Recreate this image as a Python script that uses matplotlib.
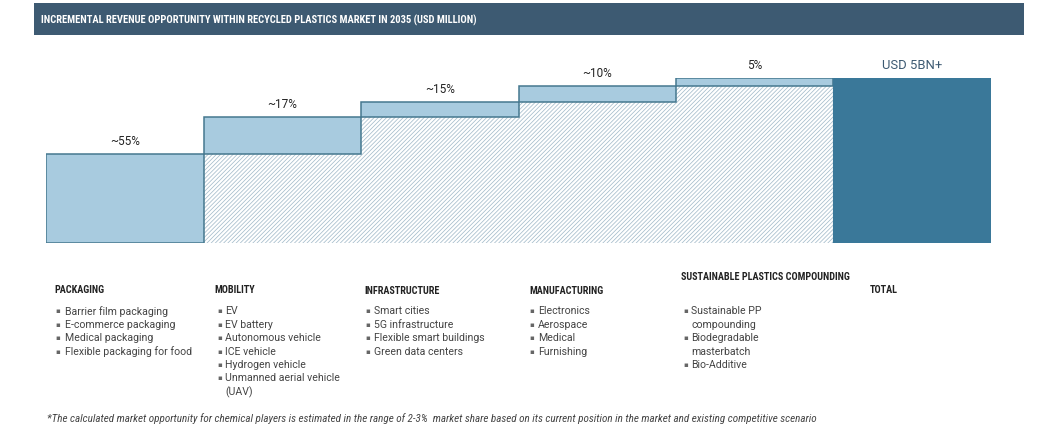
import matplotlib
matplotlib.use("Agg")
import matplotlib.pyplot as plt
from matplotlib.patches import Rectangle
import numpy as np

# ---------------- data ----------------
categories = ["PACKAGING", "MOBILITY", "INFRASTRUCTURE", "MANUFACTURING",
              "SUSTAINABLE PLASTICS COMPOUNDING", "TOTAL"]
shares = [54.1, 22.2, 9.3, 9.5, 4.9]          # share of total (%), as drawn
total_value = 100.0
value_labels = ["~55%", "~17%", "~15%", "~10%", "5%", "USD 5BN+"]
bullets = [
    ["Barrier film packaging", "E-commerce packaging", "Medical packaging",
     "Flexible packaging for food"],
    ["EV", "EV battery", "Autonomous vehicle", "ICE vehicle", "Hydrogen vehicle",
     "Unmanned aerial vehicle\n(UAV)"],
    ["Smart cities", "5G infrastructure", "Flexible smart buildings",
     "Green data centers"],
    ["Electronics", "Aerospace", "Medical", "Furnishing"],
    ["Sustainable PP\ncompounding", "Biodegradable\nmasterbatch", "Bio-Additive"],
    [],
]
title = "INCREMENTAL REVENUE OPPORTUNITY WITHIN RECYCLED PLASTICS MARKET IN 2035 (USD MILLION)"
footnote = ("*The calculated market opportunity for chemical players is estimated in the range of 2-3%  "
            "market share based on its current position in the market and existing competitive scenario")

# ---------------- style ----------------
W, H = 1062, 431
BAR_FILL = "#a8cbdf"
BAR_EDGE = "#45788f"
TOTAL_FILL = "#3a7899"
HATCH_COL = "#a5bccb"
TITLE_BG = "#3d5a72"
HEAD = ["Roboto Condensed", "Roboto", "DejaVu Sans"]
BODY = ["Roboto", "DejaVu Sans"]
FOOT = ["Roboto Condensed", "Roboto", "DejaVu Sans"]

plt.rcParams["hatch.linewidth"] = 0.55

fig = plt.figure(figsize=(W / 100, H / 100), dpi=100)
fig.patch.set_facecolor("white")
renderer = fig.canvas.get_renderer()

def fx(px):
    return px / W

def fy(py):
    return 1 - py / H

def scale_for(sample, target_px, **kw):
    """font size at which `sample` is target_px wide"""
    t = fig.text(0, 0, sample, fontsize=10, **kw)
    w = t.get_window_extent(renderer=renderer).width
    t.remove()
    return 10 * target_px / w

# title bar
fig.patches.append(Rectangle((fx(34), fy(36)), fx(1024) - fx(34), fy(4) - fy(36),
                             transform=fig.transFigure, facecolor=TITLE_BG,
                             edgecolor="none", zorder=0))
ts = min(scale_for(title, 437, family=HEAD, fontweight="bold"), 10.5)
fig.text(fx(41), fy(20.5), title, color="white", family=HEAD, fontweight="bold",
         fontsize=ts, va="center", ha="left")

# chart axes: x from 46.3 to 990.7 px, y baseline 244.3 px, top 79.3 px (=100%)
x0, x1, yb, yt = 46.3, 990.7, 244.3, 79.3
ax = fig.add_axes([fx(x0), fy(yb), fx(x1) - fx(x0), fy(yt) - fy(yb)])
ax.set_xlim(0, len(categories))
ax.set_ylim(0, total_value)
ax.axis("off")

n = len(shares)
cum = np.concatenate([[0], np.cumsum(shares)])
xs = np.arange(n)

# hatched support under floating bars
ax.bar(xs[1:], cum[1:n], width=1, align="edge", bottom=0, color="white",
       edgecolor=HATCH_COL, hatch="////////", linewidth=0, zorder=1)
# floating bars
ax.bar(xs, shares, width=1, align="edge", bottom=cum[:n], color=BAR_FILL,
       edgecolor=BAR_EDGE, linewidth=1.1, zorder=2)
# total bar
ax.bar([n], [total_value], width=1, align="edge", color=TOTAL_FILL,
       edgecolor=TOTAL_FILL, linewidth=0.8, zorder=2)

# value labels
vs = min(scale_for(value_labels[0], 30, family=BODY), 9)
us = min(scale_for(value_labels[n], 60, family=BODY), 10)
for i in range(n):
    ax.annotate(value_labels[i], (i + 0.5, cum[i + 1]), xytext=(0, 5),
                textcoords="offset points", ha="center", va="bottom",
                fontsize=vs, color="#222222", family=BODY)
ax.annotate(value_labels[n], (n + 0.5, total_value), xytext=(0, 5.5),
            textcoords="offset points", ha="center", va="bottom",
            fontsize=us, color="#3d5a72", family=BODY)

# category headers and bullet lists (pixel layout)
head_x = [54, 214, 364, 529, 681, 870]
head_y = [290, 290, 291, 291, 277, 290]
mark_dx = [1, 3, 1, 0, 2, 0]
text_dx = [11, 11, 10, 9, 10, 0]
line_y0 = 311.5
line_h = 13.4
hs = min(scale_for(categories[4], 169, family=HEAD, fontweight="bold"), 8)
bs = min(scale_for(bullets[0][0], 103, family=BODY), 8)
for c, name in enumerate(categories):
    fig.text(fx(head_x[c]), fy(head_y[c]), name, family=HEAD, fontweight="bold",
             fontsize=hs, color="#222222", va="center", ha="left")
    row = 0
    for item in bullets[c]:
        for k, line in enumerate(item.split("\n")):
            y = line_y0 + row * line_h
            if k == 0:
                fig.text(fx(head_x[c] + mark_dx[c]), fy(y), "\u25aa", fontsize=5,
                         color="#666666", va="center", ha="left", family="DejaVu Sans")
            fig.text(fx(head_x[c] + text_dx[c]), fy(y), line, fontsize=bs,
                     family=BODY, color="#444444", va="center", ha="left")
            row += 1

fs = min(scale_for(footnote, 779, family=FOOT, style="italic"), 8)
fig.text(fx(47), fy(419), footnote, fontsize=fs, style="italic", family=FOOT,
         color="#444444", va="center", ha="left")

fig.savefig("out.png", dpi=100)
